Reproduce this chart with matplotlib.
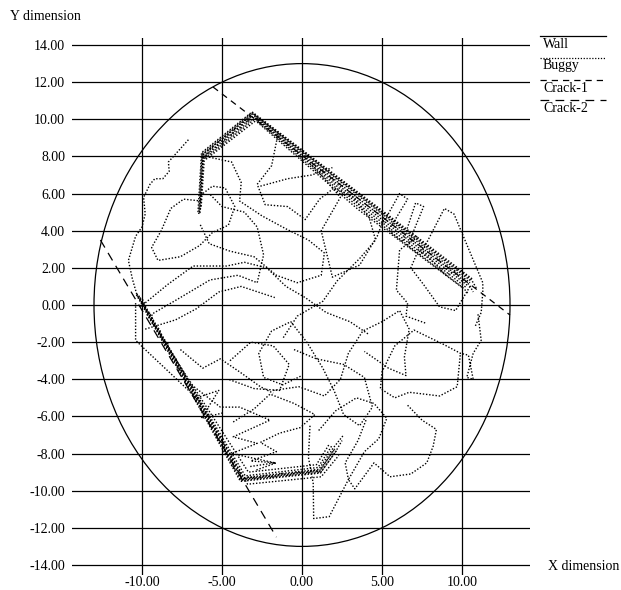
#!/usr/bin/env python3
"""Buggy run inside the circular wall, with the two cracks it follows."""

import matplotlib

matplotlib.use("Agg")
import matplotlib.pyplot as plt
from matplotlib.lines import Line2D
from matplotlib.patches import Circle

plt.rcParams["font.family"] = ["Liberation Serif", "DejaVu Serif"]
plt.rcParams["font.size"] = 10

# wall and cracks
wall_center = (0.0, 0.0)
wall_radius = 13.0
crack1_x = [-5.56, 13.0]
crack1_y = [11.74, -0.54]
crack2_x = [-12.6, -1.6]
crack2_y = [3.5, -12.5]

x_ticks = [-10, -5, 0, 5, 10]
y_ticks = [-14, -12, -10, -8, -6, -4, -2, 0, 2, 4, 6, 8, 10, 12, 14]

# buggy: passes along crack-1 (upper edge)
upper_1 = [(-6.45, 4.9), (-6.25, 8.15), (-3.1, 10.35), (10.6, 1.35), (10.9, 0.9)]
upper_2 = [(-6.4, 5.0), (-6.2, 8.1), (-3.05, 10.28), (3.5, 5.9), (10.5, 1.2)]
upper_3 = [(-6.35, 5.15), (-6.15, 8.0), (-3.0, 10.2), (3.5, 5.75), (10.45, 1.1), (10.7, 0.7)]
upper_4 = [(-6.3, 5.3), (-6.1, 7.95), (-2.95, 10.12), (3.5, 5.6), (10.35, 1.05)]
upper_5 = [(-6.05, 7.9), (-2.9, 10.05), (3.5, 5.45), (10.25, 0.95)]
upper_6 = [(-6.0, 7.85), (-2.85, 9.95), (3.5, 5.3), (10.1, 0.9), (10.4, 0.6)]
upper_7 = [(-2.8, 9.85), (3.5, 5.15), (10.0, 0.95)]
upper_8 = [(-6.5, 5.0), (-6.28, 8.2), (-3.12, 10.4), (10.65, 1.4)]
upper_9 = [(-6.38, 4.95), (-6.18, 8.12), (-3.08, 10.32), (10.55, 1.3)]
upper_saw = [(-6.2, 8.1), (-5.86, 8.15), (-5.7, 8.45), (-5.36, 8.5), (-5.2, 8.79),
             (-4.86, 8.85), (-4.7, 9.14), (-4.36, 9.19), (-4.2, 9.48), (-3.86, 9.54),
             (-3.7, 9.83), (-3.36, 9.88), (-3.2, 10.18)]

# buggy: passes along crack-2 (lower edge)
lower_1 = [(-10.35, 0.55), (-3.85, -9.5), (1.15, -9.05), (2.1, -7.9), (2.5, -7.3)]
lower_2 = [(-10.25, 0.45), (-3.75, -9.4), (1.1, -8.95), (2.0, -7.8)]
lower_3 = [(-10.15, 0.35), (-3.65, -9.3), (1.05, -8.85), (1.95, -7.7), (2.6, -7.0)]
lower_4 = [(-10.05, 0.2), (-3.55, -9.2), (1.0, -8.75), (1.85, -7.6)]
lower_5 = [(-9.9, 0.1), (-3.4, -9.65), (1.2, -9.25), (2.3, -8.1)]
lower_6 = [(-9.7, -0.5), (-3.35, -9.0), (0.9, -8.6), (1.7, -7.5)]
lower_7 = [(-10.4, 0.1), (-10.4, -1.9), (-9.8, -2.4), (-6.6, -5.0), (-5.2, -4.6),
           (-6.3, -6.1), (-4.9, -5.8)]
lower_8 = [(-10.32, 0.6), (-3.82, -9.45), (1.18, -9.0), (2.15, -7.85)]
lower_9 = [(-10.2, 0.5), (-3.7, -9.35), (1.12, -8.9), (2.05, -7.75)]
lower_saw = [(-10.3, 0.5), (-9.88, 0.22), (-9.8, -0.27), (-9.38, -0.54), (-9.3, -1.04),
             (-8.88, -1.32), (-8.8, -1.81), (-8.38, -2.09), (-8.3, -2.59), (-7.88, -2.86),
             (-7.8, -3.36), (-7.38, -3.63), (-7.3, -4.13), (-6.88, -4.4), (-6.8, -4.9),
             (-6.38, -5.18), (-6.3, -5.67), (-5.88, -5.95), (-5.8, -6.44), (-5.38, -6.72),
             (-5.3, -7.2), (-4.88, -7.49), (-4.8, -7.99), (-4.38, -8.26), (-4.3, -8.76),
             (-3.88, -9.03), (-3.8, -9.45), (-3.3, -9.25), (-2.8, -9.36), (-2.3, -9.16),
             (-1.8, -9.27), (-1.3, -9.07), (-0.8, -9.18), (-0.3, -8.98), (0.2, -9.09),
             (0.7, -8.89), (1.15, -9.0)]

# buggy: wandering between the cracks
wander_1 = [(-7.1, 8.9), (-8.35, 7.7), (-8.3, 7.2), (-8.7, 6.8), (-9.2, 6.8), (-9.5, 6.5),
            (-9.9, 5.8), (-9.8, 4.9), (-10.0, 4.2), (-10.4, 3.7), (-10.85, 2.4), (-10.6, 1.4),
            (-10.3, 0.5)]
wander_2 = [(-6.3, 5.6), (-7.4, 5.7), (-8.2, 5.2), (-8.8, 4.0), (-9.4, 3.1), (-9.0, 2.4),
            (-7.6, 2.6), (-6.4, 3.2), (-5.6, 3.9), (-4.6, 4.3), (-4.2, 5.3), (-4.8, 6.3),
            (-5.6, 6.4), (-6.2, 6.0)]
wander_3 = [(-10.1, -0.1), (-8.4, 1.1), (-6.8, 2.1), (-4.7, 2.1), (-3.6, 2.3), (-2.2, 2.0),
            (-1.0, 1.0), (0.2, 0.4), (1.5, -0.4), (3.0, -0.9), (4.2, -1.6)]
wander_4 = [(-9.3, -0.45), (-7.8, 0.3), (-5.75, 1.35), (-4.0, 1.6), (-2.8, 1.2), (-2.4, 2.7),
            (-2.8, 4.2), (-3.6, 5.0), (-5.0, 5.3), (-5.8, 6.0)]
wander_5 = [(-6.0, 8.0), (-4.4, 7.7), (-3.8, 6.6), (-3.9, 5.6), (-2.5, 4.8), (-1.0, 4.1),
            (0.4, 3.5), (1.4, 2.8), (1.2, 1.6), (-0.3, 1.2), (-1.6, 1.6), (-3.0, 2.6),
            (-4.5, 2.9), (-5.8, 3.3), (-6.4, 4.4)]
wander_6 = [(-1.5, 9.2), (-1.9, 7.5), (-2.8, 6.5), (-2.3, 5.4), (-0.9, 5.3), (0.2, 4.6),
            (1.1, 5.7), (2.0, 6.3), (3.2, 5.8), (4.2, 4.7), (4.6, 3.5), (3.6, 2.5), (2.2, 1.3),
            (1.3, 0.2), (-0.3, -0.6), (-1.2, -1.8)]
wander_7 = [(5.0, 4.3), (6.1, 6.0), (6.6, 5.7), (5.4, 4.0), (6.3, 3.4), (7.1, 5.5), (7.6, 5.3),
            (6.6, 3.2), (7.4, 2.7), (8.9, 5.2), (9.5, 4.9), (11.3, 1.2), (11.3, 0.7),
            (11.2, -0.4), (10.8, -1.2)]
wander_8 = [(10.5, 1.0), (9.6, -0.3), (8.6, -0.1), (7.6, 1.1), (6.8, 2.0), (7.3, 3.0),
            (8.0, 2.5), (9.0, 1.6), (9.7, 1.9)]
wander_9 = [(11.0, -0.5), (11.2, -1.9), (10.7, -2.6), (10.3, -3.9), (10.7, -4.0), (10.4, -2.7),
            (9.9, -2.6), (8.8, -2.1), (7.0, -1.35), (5.8, -2.2), (5.0, -3.6), (4.9, -4.5),
            (5.8, -5.0), (6.7, -4.7), (8.6, -4.9), (9.7, -4.4), (9.9, -2.6)]
wander_10 = [(6.6, -5.4), (7.5, -6.2), (8.4, -6.7), (8.2, -7.6), (7.8, -8.5), (6.8, -9.1),
             (5.5, -9.25), (4.5, -8.5), (3.3, -9.9), (2.9, -9.4), (3.9, -7.9), (4.8, -7.2),
             (5.3, -6.1), (4.5, -5.3), (3.4, -5.0), (2.1, -5.7), (1.0, -6.8)]
wander_11 = [(-0.5, -2.4), (0.9, -2.9), (2.6, -3.2), (3.9, -3.9), (4.4, -5.5), (3.6, -6.5),
             (2.6, -5.9), (2.0, -4.6), (1.3, -3.4), (0.3, -2.0), (-0.7, -0.9), (-1.9, -1.4),
             (-2.7, -2.6), (-2.4, -3.9), (-1.2, -4.3), (0.0, -3.8)]
wander_12 = [(-1.8, -4.6), (-0.2, -4.4), (1.4, -4.9), (2.4, -4.0), (2.9, -2.6), (3.8, -1.4),
             (5.0, -0.9), (6.1, -0.3), (6.7, -1.3), (6.4, -2.8), (6.5, -3.8), (5.4, -3.4),
             (3.9, -2.5)]
wander_13 = [(-4.3, -6.3), (-3.0, -5.6), (-2.0, -4.8), (-0.5, -5.3), (0.8, -5.9), (-0.1, -6.6),
             (-1.4, -6.9), (-2.6, -7.4), (-1.6, -7.9), (-3.2, -8.4), (-1.6, -8.5), (-2.9, -8.9)]
wander_14 = [(0.5, -6.5), (0.4, -8.2), (0.7, -9.6), (0.73, -11.5), (1.7, -11.4), (2.9, -9.4),
             (2.7, -8.5), (3.5, -7.3), (4.0, -6.2)]
wander_15 = [(-9.8, -1.3), (-7.9, -0.8), (-6.6, -0.2), (-5.2, 0.7), (-3.8, 1.0), (-1.7, 0.4)]
wander_16 = [(0.5, 7.6), (1.1, 7.1), (2.4, 5.8), (1.2, 4.0), (1.9, 1.5), (3.6, 2.15),
             (4.7, 3.7), (5.1, 4.6)]
wander_17 = [(7.2, 3.7), (6.1, 2.96), (5.9, 0.8), (6.6, 0.1), (6.5, -0.6), (7.8, -1.0)]
wander_18 = [(-2.6, 6.4), (-0.9, 6.8), (0.6, 7.0), (1.9, 7.4)]
wander_19 = [(-4.5, -3.0), (-3.2, -2.0), (-1.8, -2.2), (-0.8, -3.2), (-1.4, -4.6),
             (-3.0, -4.5), (-4.6, -4.0)]
wander_20 = [(-7.6, -2.4), (-6.2, -3.4), (-5.1, -2.9), (-3.9, -3.6), (-2.6, -4.4), (-1.8, -4.75)]
wander_21 = [(-6.9, -4.3), (-5.1, -5.5), (-3.9, -5.5), (-2.0, -6.2), (-4.3, -7.1),
             (-2.8, -7.45), (-4.4, -8.0), (-1.7, -8.5), (-3.25, -8.7)]

buggy_paths = [
    upper_1, upper_2, upper_3, upper_4, upper_5, upper_6, upper_7, upper_8, upper_9, upper_saw,
    lower_1, lower_2, lower_3, lower_4, lower_5, lower_6, lower_7, lower_8, lower_9, lower_saw,
    wander_1, wander_2, wander_3, wander_4, wander_5, wander_6, wander_7, wander_8,
    wander_9, wander_10, wander_11, wander_12, wander_13, wander_14, wander_15,
    wander_16, wander_17, wander_18, wander_19, wander_20, wander_21,
]

DOTTED = (0, (1, 1.3))
CRACK1_DASH = (0, (5, 4))
CRACK2_DASH = (0, (7, 5))

fig = plt.figure(figsize=(6.21, 5.90), dpi=100)
W, H = 621.0, 590.0
ax = fig.add_axes([72 / W, 1 - 575 / H, (530 - 72) / W, (575 - 37.6) / H])
ax.set_xlim(-14.375, 14.25)
ax.set_ylim(-14.54, 14.4)
for side in ax.spines.values():
    side.set_visible(False)
ax.set_xticks(x_ticks)
ax.set_yticks(y_ticks)
ax.set_xticklabels([f"{v:.2f}" for v in x_ticks])
ax.set_yticklabels([f"{v:.2f}" for v in y_ticks])
ax.tick_params(length=0, labelsize=10)
ax.tick_params(axis="y", pad=5)
ax.tick_params(axis="x", pad=1)
ax.grid(True, color="black", linewidth=0.9)
ax.set_axisbelow(True)

ax.add_patch(Circle(wall_center, wall_radius, fill=False, color="black", linewidth=0.9))
for path in buggy_paths:
    ax.plot([p[0] for p in path], [p[1] for p in path], color="black",
            linestyle=DOTTED, linewidth=1.0)
ax.plot(crack1_x, crack1_y, color="black", linestyle=CRACK1_DASH, linewidth=0.9)
ax.plot(crack2_x, crack2_y, color="black", linestyle=CRACK2_DASH, linewidth=0.9)

fig.text(10 / W, 1 - 17 / H, "Y dimension", va="center", ha="left")
fig.text(548 / W, 1 - 567 / H, "X dimension", va="center", ha="left")

# legend: sample line drawn above each label
legend_items = [("Wall", "-", 36, 45), ("Buggy", DOTTED, 58, 66),
                ("Crack-1", CRACK1_DASH, 80, 88), ("Crack-2", CRACK2_DASH, 100, 108)]
for label, style, line_y, text_y in legend_items:
    fig.add_artist(Line2D([540 / W, 606 / W], [1 - line_y / H] * 2, transform=fig.transFigure,
                          color="black", linestyle=style, linewidth=0.9))
    fig.text(543 / W, 1 - text_y / H, label, va="center", ha="left")

fig.savefig("out.png", dpi=100)
